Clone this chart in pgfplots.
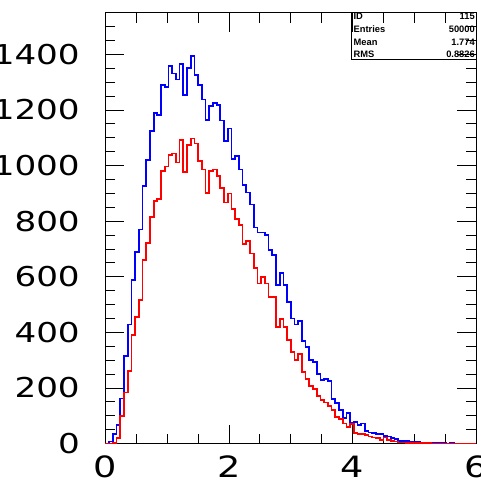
\documentclass[border=0pt]{standalone}
\usepackage{pgfplots}
\pgfplotsset{compat=1.18}
\usepackage{pgfplotstable}
\usepackage{fontspec}
\setmainfont{DejaVu Sans}
\newfontfamily\statfont{Liberation Sans}
\newcommand{\Y}[1]{\scalebox{1.25}[1]{#1}}
\definecolor{rootblue}{RGB}{0,0,255}
\definecolor{rootred}{RGB}{255,0,0}
\pgfplotstableread{
x b r
0.00 0 0
0.06 7 0
0.12 33 3
0.18 66 21
0.24 162 99
0.30 315 184
0.36 428 261
0.42 588 390
0.48 690 454
0.54 770 516
0.60 927 660
0.66 1021 722
0.72 1123 815
0.78 1190 872
0.84 1181 879
0.90 1291 981
0.96 1283 997
1.02 1358 1037
1.08 1331 1043
1.14 1310 1011
1.20 1364 1093
1.26 1253 977
1.32 1352 1073
1.38 1394 1097
1.44 1325 1079
1.50 1289 1017
1.56 1238 986
1.62 1163 902
1.68 1214 981
1.74 1225 986
1.80 1219 963
1.86 1162 920
1.92 1087 867
1.98 1133 899
2.04 1023 843
2.10 1035 807
2.16 986 785
2.22 929 717
2.28 903 728
2.34 860 684
2.40 777 632
2.46 759 576
2.52 759 600
2.58 749 576
2.64 696 528
2.70 678 528
2.76 570 418
2.82 614 448
2.88 570 420
2.94 510 372
3.00 450 330
3.06 428 300
3.12 440 322
3.18 370 258
3.24 348 231
3.30 300 208
3.36 293 195
3.42 249 172
3.48 228 156
3.54 231 148
3.60 226 136
3.66 159 120
3.72 147 96
3.78 120 87
3.84 93 72
3.90 111 60
3.96 75 70
4.02 78 39
4.08 66 34
4.14 72 34
4.20 46 31
4.26 40 25
4.32 39 22
4.38 34 19
4.44 33 13
4.50 27 22
4.56 25 13
4.62 21 9
4.68 15 7
4.74 10 4
4.80 9 4
4.86 8 3
4.92 6 3
4.98 5 2
5.04 5 2
5.10 3 1
5.16 3 1
5.22 2 1
5.28 2 0
5.34 1 0
5.40 1 0
5.46 1 0
5.52 0 0
5.58 1 0
5.64 0 0
5.70 0 0
5.76 0 0
5.82 0 0
5.88 0 0
5.94 0 0
6.00 0 0
}\hist
\begin{document}
\begin{tikzpicture}
\begin{axis}[
  scale only axis, width=277.9pt, height=323.1pt,
  xmin=0, xmax=6, ymin=0, ymax=1550,
  xtick={0,2,4,6}, xticklabels={\Y{0},\Y{2},\Y{4},\Y{6}},
  minor xtick={0.5,1,1.5,2.5,3,3.5,4.5,5,5.5},
  ytick={0,200,400,600,800,1000,1200,1400},
  yticklabels={\Y{0},\Y{200},\Y{400},\Y{600},\Y{800},\Y{1000},\Y{1200},\Y{1400}},
  minor ytick={50,100,...,1550},
  tick align=inside,
  major tick length=14.25pt, minor tick length=7.5pt,
  every tick/.style={black, line width=0.6pt},
  axis line style={line width=0.75pt},
  xticklabel style={anchor=north, inner sep=0pt, yshift=-9.2pt, font=\fontsize{22}{24}\selectfont},
  yticklabel style={anchor=east, inner sep=0pt, xshift=-19.1pt, font=\fontsize{20.5}{23}\selectfont},
  clip=false,
]
\addplot[draw=rootblue, line width=1.3pt, const plot, mark=none] table[x=x, y=b] {\hist};
\addplot[draw=rootred, line width=1.3pt, const plot, mark=none] table[x=x, y=r] {\hist};
\draw[line width=0.6pt] (rel axis cs:0.6645,0.8918) rectangle (rel axis cs:1,1);
\begin{scope}[every node/.style={inner sep=0pt, font=\statfont\bfseries\fontsize{7}{8}\selectfont}]
\node[anchor=west] at (rel axis cs:0.6688,0.9907) {ID};
\node[anchor=east] at (rel axis cs:0.9973,0.9907) {115};
\node[anchor=west] at (rel axis cs:0.6688,0.9621) {Entries};
\node[anchor=east] at (rel axis cs:0.9973,0.9621) {50000};
\node[anchor=west] at (rel axis cs:0.6688,0.9313) {Mean};
\node[anchor=east] at (rel axis cs:0.9973,0.9313) {1.774};
\node[anchor=west] at (rel axis cs:0.6688,0.9040) {RMS};
\node[anchor=east] at (rel axis cs:0.9973,0.9040) {0.8826};
\end{scope}
\end{axis}
\pgfresetboundingbox
\path[use as bounding box] ([xshift=-79.1pt,yshift=-29.6pt]current axis.south west) rectangle ([xshift=3pt,yshift=9.5pt]current axis.north east);
\end{tikzpicture}
\end{document}
